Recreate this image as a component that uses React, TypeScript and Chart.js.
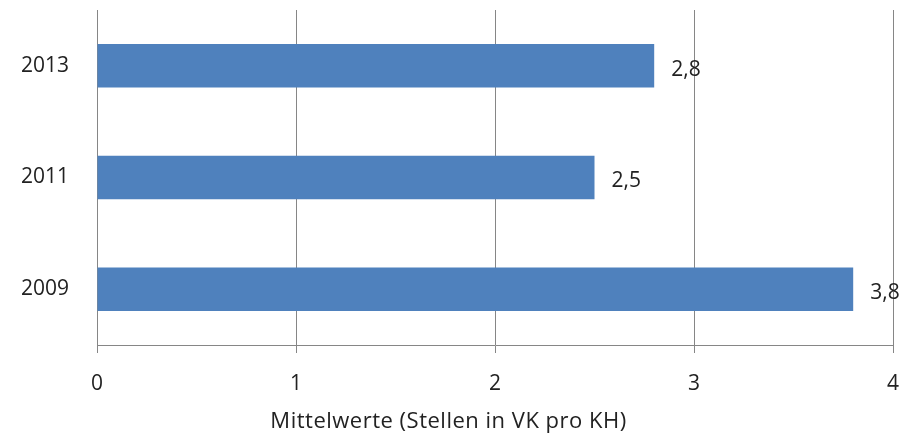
import React, { useEffect, useRef } from "react";
import { Chart, registerables } from "chart.js";

Chart.register(...registerables);

const categories = ["2013", "2011", "2009"];
const values = [2.8, 2.5, 3.8];
const xTicks = [0, 1, 2, 3, 4];
const axisTitle = "Mittelwerte (Stellen in VK pro KH)";

const FONT = "'Open Sans', 'Noto Sans', sans-serif";
const TEXT = "#222222";

const valueLabels = {
  id: "valueLabels",
  afterDatasetsDraw(chart: any) {
    const ctx = chart.ctx;
    const meta = chart.getDatasetMeta(0);
    ctx.save();
    ctx.font = `21px ${FONT}`;
    ctx.fillStyle = TEXT;
    ctx.textAlign = "left";
    ctx.textBaseline = "middle";
    meta.data.forEach((bar: any, i: number) => {
      const txt = String(values[i]).replace(".", ",");
      ctx.fillText(txt, bar.x + 17, bar.y + 4);
    });
    ctx.restore();
  },
};

const bottomTitle = {
  id: "bottomTitle",
  afterDraw(chart: any) {
    const ctx = chart.ctx;
    ctx.save();
    ctx.font = `22px ${FONT}`;
    try {
      (ctx as any).letterSpacing = "0.5px";
    } catch (e) {}
    ctx.fillStyle = TEXT;
    ctx.textAlign = "center";
    ctx.textBaseline = "middle";
    ctx.fillText(axisTitle, chart.width / 2 - 4, chart.height - 14);
    ctx.restore();
  },
};

export default function App() {
  const ref = useRef<HTMLCanvasElement>(null);
  useEffect(() => {
    if (!ref.current) return;
    const chart = new Chart(ref.current, {
      type: "bar",
      data: {
        labels: categories,
        datasets: [
          {
            data: values,
            backgroundColor: "#4f81bd",
            borderWidth: 0,
            categoryPercentage: 1,
            barPercentage: 0.39,
          },
        ],
      },
      options: {
        indexAxis: "y",
        animation: false,
        responsive: true,
        maintainAspectRatio: false,
        layout: { padding: { top: 10, right: 12, left: 0, bottom: 0 } },
        plugins: {
          legend: { display: false },
          tooltip: { enabled: false },
        },
        scales: {
          x: {
            min: 0,
            max: 4,
            afterBuildTicks: (scale: any) => {
              scale.ticks = xTicks.map((v) => ({ value: v }));
            },
            afterFit: (scale: any) => {
              scale.height = 91;
              scale.paddingLeft = 0;
              scale.paddingRight = 0;
            },
            grid: {
              color: "#868686",
              lineWidth: 1,
              drawTicks: true,
              tickLength: 8,
              tickColor: "#868686",
            },
            border: { display: true, color: "#868686", width: 1 },
            ticks: {
              padding: 18,
              color: TEXT,
              font: { family: FONT, size: 21 },
              maxRotation: 0,
            },
            title: { display: false },
          },
          y: {
            afterFit: (scale: any) => {
              scale.width = 97;
              scale.paddingTop = 0;
              scale.paddingBottom = 0;
            },
            grid: {
              display: true,
              drawOnChartArea: false,
              drawTicks: true,
              tickLength: 28,
              tickColor: "rgba(0,0,0,0)",
            },
            border: { display: false },
            ticks: {
              padding: 0,
              color: TEXT,
              font: { family: FONT, size: 21 },
            },
          },
        },
      },
      plugins: [valueLabels, bottomTitle],
    });
    return () => chart.destroy();
  }, []);
  return (
    <div style={{ position: "fixed", left: 0, top: 0, width: 905, height: 436, background: "#fff" }}>
      <canvas ref={ref} />
    </div>
  );
}
